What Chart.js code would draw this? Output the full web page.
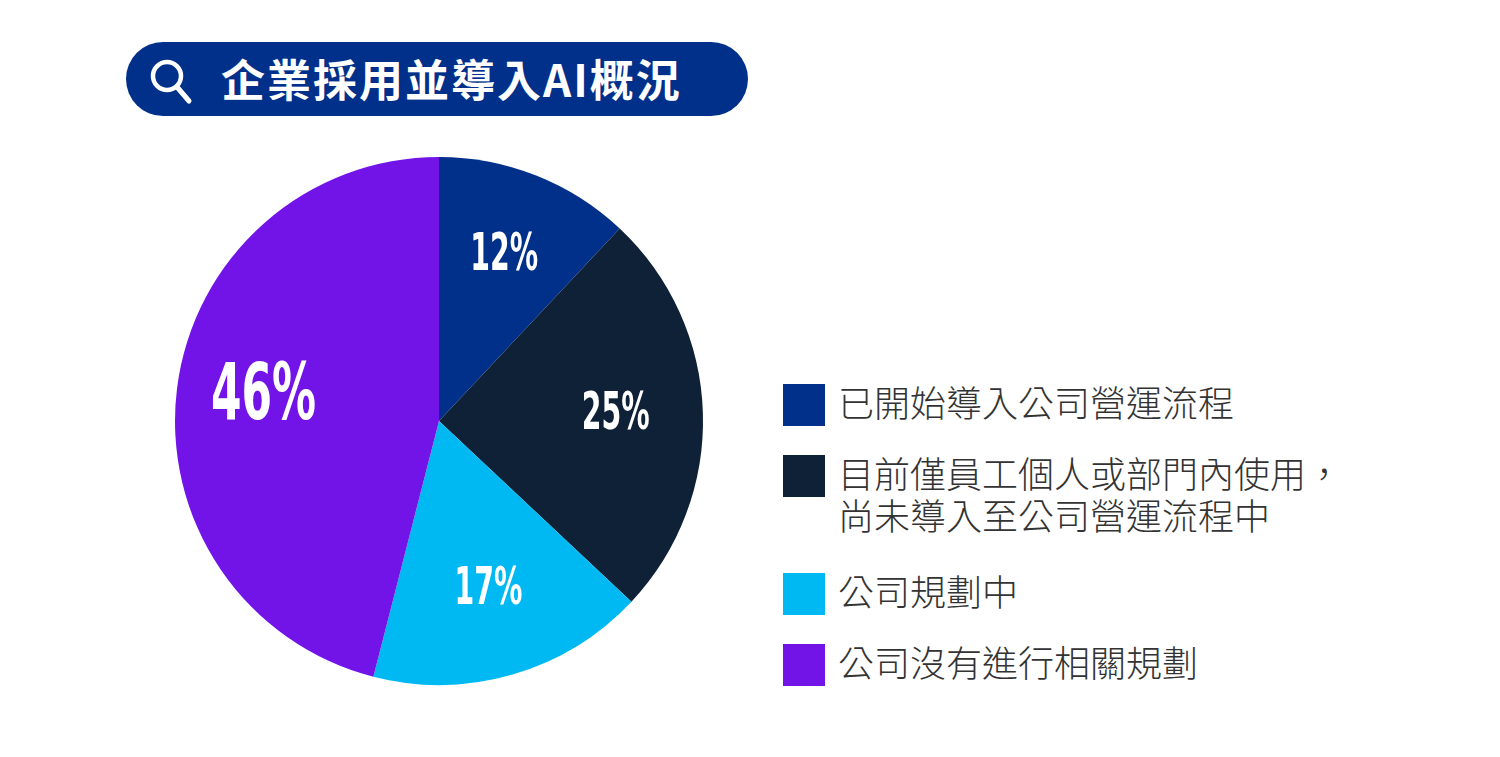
<!DOCTYPE html>
<html>
<head>
<meta charset="utf-8">
<script src="https://cdn.jsdelivr.net/npm/chart.js@4.4.1/dist/chart.umd.min.js"></script>
<style>
  html, body { margin:0; padding:0; background:#fff; width:1500px; height:757px; overflow:hidden; }
  #title { position:absolute; left:126px; top:42px; width:622px; height:74px; border-radius:37px; background:#00308a; }
  #titleText { position:absolute; left:221px; top:41px; height:74px; line-height:74px; color:#fff;
    font-family:"Noto Sans CJK TC","Noto Sans CJK SC",sans-serif; font-weight:700; font-size:44px; letter-spacing:2px; }
  #pieWrap { position:absolute; left:169px; top:151px; width:540px; height:540px; }
  #legend { position:absolute; left:783px; top:384px; font-family:"Noto Sans CJK TC","Noto Sans CJK SC",sans-serif; font-weight:300; color:#333; font-size:36px; }
  .item { position:absolute; left:0; white-space:nowrap; }
  .sw { position:absolute; left:0; top:0; width:42px; height:42px; }
  .txt { position:absolute; left:55px; top:-4px; line-height:42px; }
</style>
</head>
<body>
<div id="title"></div>
<svg width="50" height="50" viewBox="0 0 50 50" style="position:absolute;left:147px;top:56px;">
  <circle cx="20" cy="20" r="14" fill="none" stroke="#fff" stroke-width="4.5"/>
  <line x1="30" y1="31" x2="42" y2="45" stroke="#fff" stroke-width="5" stroke-linecap="round"/>
</svg>
<div id="titleText">企業採用並導入AI概況</div>
<div id="pieWrap"><canvas id="c" width="540" height="540"></canvas></div>
<div id="legend"></div>
<script>
const categories = [
  "已開始導入公司營運流程",
  "目前僅員工個人或部門內使用，\n尚未導入至公司營運流程中",
  "公司規劃中",
  "公司沒有進行相關規劃"
];
const values = [12, 25, 17, 46];
const colors = ["#00308a", "#0e2137", "#00b9f2", "#7213e8"];
const legendTops = [0, 71, 189, 260];

// HTML legend built from the arrays
const lg = document.getElementById('legend');
categories.forEach((c, i) => {
  const d = document.createElement('div');
  d.className = 'item';
  d.style.top = legendTops[i] + 'px';
  d.innerHTML = '<div class="sw" style="background:' + colors[i] + '"></div><div class="txt">' +
    c.split('\n').join('<br>') + '</div>';
  lg.appendChild(d);
});

const labelPlugin = {
  id: 'pctLabels',
  afterDatasetsDraw(chart) {
    const ctx = chart.ctx;
    const meta = chart.getDatasetMeta(0);
    meta.data.forEach((arc, i) => {
      const v = chart.data.datasets[0].data[i];
      const mid = (arc.startAngle + arc.endAngle) / 2;
      const r = arc.outerRadius * 0.67;
      const x = arc.x + Math.cos(mid) * r;
      const y = arc.y + Math.sin(mid) * r;
      const fs = v > 40 ? 79 : 51;
      const text = v + '%';
      ctx.save();
      ctx.font = 'bold ' + fs + 'px "Liberation Sans Narrow", "DejaVu Sans Condensed", "Liberation Sans", sans-serif';
      const w = ctx.measureText(text).width;
      const targetW = 1.85 * 0.72 * fs;
      const sx = Math.min(1, targetW / w);
      ctx.translate(x, y);
      ctx.scale(sx, 1);
      ctx.fillStyle = '#ffffff';
      ctx.textAlign = 'center';
      ctx.textBaseline = 'middle';
      ctx.fillText(text, 0, 0);
      ctx.restore();
    });
  }
};

new Chart(document.getElementById('c'), {
  type: 'pie',
  data: {
    labels: categories,
    datasets: [{ data: values, backgroundColor: colors, borderWidth: 0 }]
  },
  options: {
    responsive: false,
    animation: false,
    layout: { padding: 6 },
    plugins: { legend: { display: false }, tooltip: { enabled: false } }
  },
  plugins: [labelPlugin]
});
</script>
</body>
</html>
